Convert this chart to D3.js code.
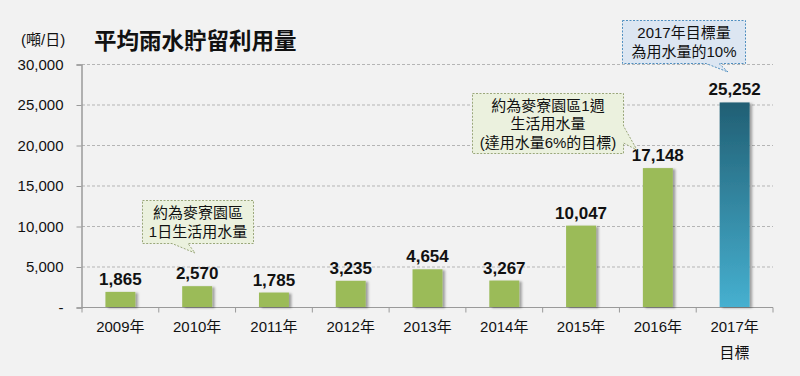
<!DOCTYPE html>
<html lang="zh-Hant">
<head>
<meta charset="UTF-8" />
<title>平均雨水貯留利用量</title>
<script src="https://cdn.jsdelivr.net/npm/d3@7"></script>
<style>
  html, body { margin: 0; padding: 0; background: #f2f2f2; }
  svg { display: block; font-family: "Liberation Sans", Arial, "Noto Sans CJK TC", sans-serif; }
</style>
</head>
<body>
<div id="chart"></div>
<script>
  var years = ["2009年", "2010年", "2011年", "2012年", "2013年", "2014年", "2015年", "2016年", "2017年"];
  var values = [1865, 2570, 1785, 3235, 4654, 3267, 10047, 17148, 25252];
  var yTicks = [0, 5000, 10000, 15000, 20000, 25000, 30000];

  var width = 800, height = 376;
  var margin = { top: 64, right: 27, bottom: 69, left: 82 };

  var svg = d3.select("#chart").append("svg")
              .attr("width", width)
              .attr("height", height);

  var defs = svg.append("defs");
  var grad = defs.append("linearGradient")
                 .attr("id", "target")
                 .attr("x1", 0).attr("y1", 0).attr("x2", 0).attr("y2", 1);
  grad.append("stop").attr("offset", "0%").attr("stop-color", "#215f74");
  grad.append("stop").attr("offset", "100%").attr("stop-color", "#46b0d0");
  var shadow = defs.append("filter").attr("id", "shadow")
                   .attr("x", "-20%").attr("y", "-10%").attr("width", "150%").attr("height", "130%");
  shadow.append("feDropShadow")
        .attr("dx", 2.5).attr("dy", 1).attr("stdDeviation", 1.2)
        .attr("flood-color", "#000").attr("flood-opacity", 0.35);

  var xScale = d3.scaleBand()
                 .domain(years)
                 .range([margin.left, width - margin.right])
                 .paddingInner(0.61)
                 .paddingOuter(0.305);
  var yScale = d3.scaleLinear()
                 .domain([0, 30000])
                 .range([height - margin.bottom, margin.top]);

  // gridlines
  svg.append("g")
     .selectAll("line")
     .data(yTicks.slice(1))
     .enter()
     .append("line")
     .attr("x1", margin.left)
     .attr("x2", width - margin.right)
     .attr("y1", function(d) { return yScale(d) + 0.5; })
     .attr("y2", function(d) { return yScale(d) + 0.5; })
     .attr("stroke", "#b5b5b5")
     .attr("stroke-dasharray", "3,2");

  var yAxis = d3.axisLeft(yScale)
                .tickValues(yTicks)
                .tickSize(5)
                .tickPadding(13)
                .tickFormat(function(d) { return d === 0 ? "-" : d3.format(",")(d); });
  var gy = svg.append("g")
              .attr("transform", "translate(" + (margin.left - 0.5) + ",0.5)")
              .call(yAxis);
  gy.select(".domain").attr("stroke", "#9a9a9a").attr("stroke-width", 1.5);
  gy.selectAll(".tick line").attr("stroke", "#9a9a9a");
  gy.selectAll("text").attr("font-size", "15px").attr("fill", "#111");

  // x axis
  var xAxisY = height - margin.bottom + 0.5;
  var gx = svg.append("g");
  gx.append("line")
    .attr("x1", margin.left).attr("x2", width - margin.right)
    .attr("y1", xAxisY).attr("y2", xAxisY)
    .attr("stroke", "#9a9a9a").attr("stroke-width", 1.2);
  var step = xScale.step();
  gx.selectAll(".xt")
    .data(d3.range(years.length + 1))
    .enter()
    .append("line")
    .attr("x1", function(i) { return margin.left + i * step; })
    .attr("x2", function(i) { return margin.left + i * step; })
    .attr("y1", xAxisY).attr("y2", xAxisY + 5)
    .attr("stroke", "#9a9a9a");
  gx.selectAll(".xl")
    .data(years)
    .enter()
    .append("text")
    .attr("x", function(d) { return xScale(d) + xScale.bandwidth() / 2; })
    .attr("y", xAxisY + 24)
    .attr("text-anchor", "middle")
    .attr("font-size", "15px")
    .attr("fill", "#111")
    .text(function(d) { return d; });
  gx.append("text")
    .attr("x", xScale("2017年") + xScale.bandwidth() / 2)
    .attr("y", xAxisY + 50)
    .attr("text-anchor", "middle")
    .attr("font-size", "15px")
    .attr("fill", "#111")
    .text("目標");

  // bars
  svg.selectAll(".bar")
     .data(values)
     .enter()
     .append("rect")
     .attr("x", function(d, i) { return xScale(years[i]); })
     .attr("y", function(d) { return yScale(d); })
     .attr("width", xScale.bandwidth())
     .attr("height", function(d) { return yScale(0) - yScale(d); })
     .attr("fill", function(d, i) { return i === years.length - 1 ? "url(#target)" : "#9bbb59"; })
     .attr("filter", "url(#shadow)");

  svg.selectAll(".val")
     .data(values)
     .enter()
     .append("text")
     .attr("x", function(d, i) { return xScale(years[i]) + xScale.bandwidth() / 2; })
     .attr("y", function(d) { return yScale(d) - 7; })
     .attr("text-anchor", "middle")
     .attr("font-size", "17px")
     .attr("font-weight", "bold")
     .attr("fill", "#111")
     .text(function(d) { return d3.format(",")(d); });

  // titles
  svg.append("text")
     .attr("x", 21).attr("y", 45)
     .attr("font-size", "15px")
     .attr("fill", "#111")
     .text("(噸/日)");
  svg.append("text")
     .attr("x", 94).attr("y", 49)
     .attr("font-size", "22.5px")
     .attr("font-weight", "bold")
     .attr("fill", "#111")
     .text("平均雨水貯留利用量");

  // callouts
  function callout(box, tail, lines, fill, stroke) {
    var x0 = box[0], y0 = box[1], x1 = box[2], y1 = box[3];
    var p;
    if (tail.side === "bottom") {
      p = [[x0, y0], [x1, y0], [x1, y1], [tail.b, y1], tail.tip, [tail.a, y1], [x0, y1]];
    } else {
      p = [[x0, y0], [x1, y0], [x1, tail.a], tail.tip, [x1, tail.b], [x1, y1], [x0, y1]];
    }
    svg.append("path")
       .attr("d", d3.line()(p) + "Z")
       .attr("fill", fill)
       .attr("stroke", stroke)
       .attr("stroke-dasharray", "2,1.5");
    var cx = (x0 + x1) / 2;
    var lh = 18.5;
    var startY = (y0 + y1) / 2 - (lines.length - 1) * lh / 2 + 5.5;
    lines.forEach(function(t, i) {
      svg.append("text")
         .attr("x", cx)
         .attr("y", startY + i * lh)
         .attr("text-anchor", "middle")
         .attr("font-size", "15px")
         .attr("fill", "#111")
         .text(t);
    });
  }

  callout([142.5, 200.5, 253.5, 243.5], { side: "bottom", a: 172, b: 188, tip: [195, 253] },
          ["約為麥寮園區", "1日生活用水量"], "#ebf1de", "#9aa77a");
  callout([472.5, 93.5, 623.5, 153.5], { side: "right", a: 126, b: 143, tip: [637, 150] },
          ["約為麥寮園區1週", "生活用水量", "(達用水量6%的目標)"], "#ebf1de", "#9aa77a");
  callout([622.5, 20.5, 745.5, 63.5], { side: "bottom", a: 706, b: 719, tip: [728, 72] },
          ["2017年目標量", "為用水量的10%"], "#dce6f2", "#4f8fc0");
</script>
</body>
</html>
